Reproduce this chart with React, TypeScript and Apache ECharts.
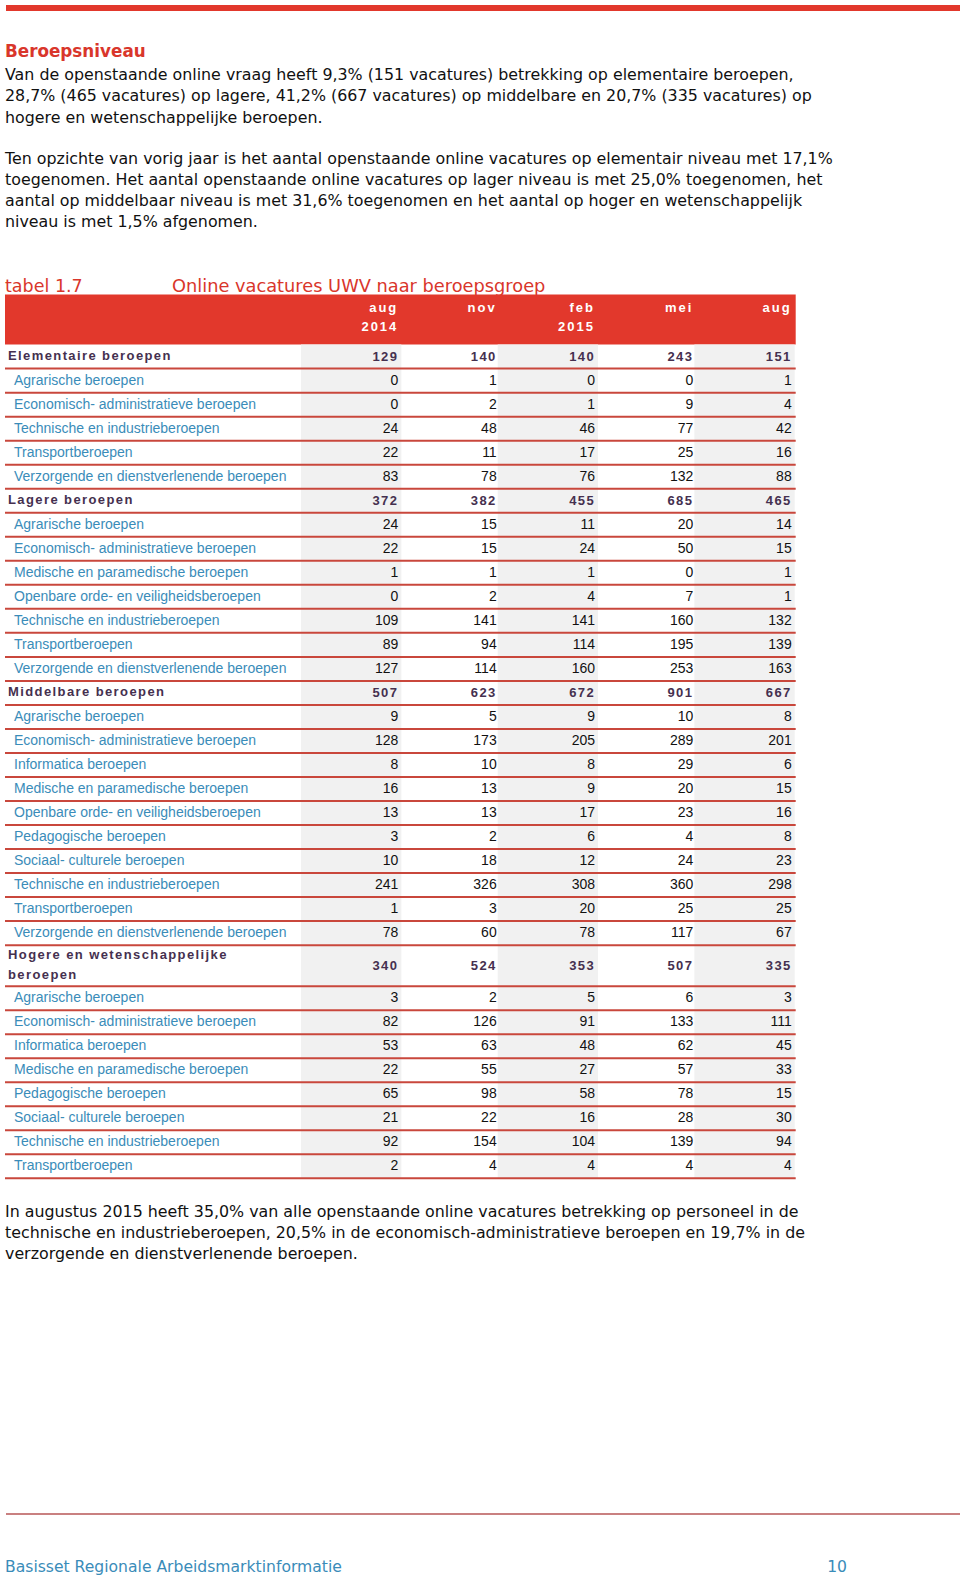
import React, { useEffect, useRef } from "react";
import * as echarts from "echarts";

// ---------- DATA ----------
const periods = ["aug\n2014", "nov", "feb\n2015", "mei", "aug"];

const groupNames = [
  "Elementaire beroepen",
  "Lagere beroepen",
  "Middelbare beroepen",
  "Hogere en wetenschappelijke\nberoepen",
];
const groupTotals = [
  [129, 140, 140, 243, 151],
  [372, 382, 455, 685, 465],
  [507, 623, 672, 901, 667],
  [340, 524, 353, 507, 335],
];

const elementaireLabels = [
  "Agrarische beroepen",
  "Economisch- administratieve beroepen",
  "Technische en industrieberoepen",
  "Transportberoepen",
  "Verzorgende en dienstverlenende beroepen",
];
const elementaireValues = [
  [0, 1, 0, 0, 1],
  [0, 2, 1, 9, 4],
  [24, 48, 46, 77, 42],
  [22, 11, 17, 25, 16],
  [83, 78, 76, 132, 88],
];

const lagereLabels = [
  "Agrarische beroepen",
  "Economisch- administratieve beroepen",
  "Medische en paramedische beroepen",
  "Openbare orde- en veiligheidsberoepen",
  "Technische en industrieberoepen",
  "Transportberoepen",
  "Verzorgende en dienstverlenende beroepen",
];
const lagereValues = [
  [24, 15, 11, 20, 14],
  [22, 15, 24, 50, 15],
  [1, 1, 1, 0, 1],
  [0, 2, 4, 7, 1],
  [109, 141, 141, 160, 132],
  [89, 94, 114, 195, 139],
  [127, 114, 160, 253, 163],
];

const middelbareLabels = [
  "Agrarische beroepen",
  "Economisch- administratieve beroepen",
  "Informatica beroepen",
  "Medische en paramedische beroepen",
  "Openbare orde- en veiligheidsberoepen",
  "Pedagogische beroepen",
  "Sociaal- culturele beroepen",
  "Technische en industrieberoepen",
  "Transportberoepen",
  "Verzorgende en dienstverlenende beroepen",
];
const middelbareValues = [
  [9, 5, 9, 10, 8],
  [128, 173, 205, 289, 201],
  [8, 10, 8, 29, 6],
  [16, 13, 9, 20, 15],
  [13, 13, 17, 23, 16],
  [3, 2, 6, 4, 8],
  [10, 18, 12, 24, 23],
  [241, 326, 308, 360, 298],
  [1, 3, 20, 25, 25],
  [78, 60, 78, 117, 67],
];

const hogereLabels = [
  "Agrarische beroepen",
  "Economisch- administratieve beroepen",
  "Informatica beroepen",
  "Medische en paramedische beroepen",
  "Pedagogische beroepen",
  "Sociaal- culturele beroepen",
  "Technische en industrieberoepen",
  "Transportberoepen",
];
const hogereValues = [
  [3, 2, 5, 6, 3],
  [82, 126, 91, 133, 111],
  [53, 63, 48, 62, 45],
  [22, 55, 27, 57, 33],
  [65, 98, 58, 78, 15],
  [21, 22, 16, 28, 30],
  [92, 154, 104, 139, 94],
  [2, 4, 4, 4, 4],
];

const subLabels = [elementaireLabels, lagereLabels, middelbareLabels, hogereLabels];
const subValues = [elementaireValues, lagereValues, middelbareValues, hogereValues];

const sectionTitle = "Beroepsniveau";
const introLines = [
  "Van de openstaande online vraag heeft 9,3% (151 vacatures) betrekking op elementaire beroepen,",
  "28,7% (465 vacatures) op lagere, 41,2% (667 vacatures) op middelbare en 20,7% (335 vacatures) op",
  "hogere en wetenschappelijke beroepen.",
];
const changeLines = [
  "Ten opzichte van vorig jaar is het aantal openstaande online vacatures op elementair niveau met 17,1%",
  "toegenomen. Het aantal openstaande online vacatures op lager niveau is met 25,0% toegenomen, het",
  "aantal op middelbaar niveau is met 31,6% toegenomen en het aantal op hoger en wetenschappelijk",
  "niveau is met 1,5% afgenomen.",
];
const tableNumber = "tabel 1.7";
const tableTitle = "Online vacatures UWV naar beroepsgroep";
const outroLines = [
  "In augustus 2015 heeft 35,0% van alle openstaande online vacatures betrekking op personeel in de",
  "technische en industrieberoepen, 20,5% in de economisch-administratieve beroepen en 19,7% in de",
  "verzorgende en dienstverlenende beroepen.",
];
const footerText = "Basisset Regionale Arbeidsmarktinformatie";
const pageNumber = "10";

// ---------- STYLE ----------
const RED = "#e2382c";
const TITLE_RED = "#d9362b";
const LINE_RED = "#c9473c";
const GREY = "#f1f1f1";
const BLUE = "#3a8cb9";
const GROUP_COLOR = "#45304f";
const HEAD_COLOR = "#ffffff";
const PARA_FONT = '15.85px "DejaVu Sans"';
const FOOT_FONT = '15.6px "DejaVu Sans"';
const TABLE_FONT = '"Liberation Sans", Arial, sans-serif';

const HEADER_U = 50 / 24.02;
const TWO_LINE_U = 41 / 24.02;

type Row = { kind: string; label: string; values: number[]; y0: number; h: number };

function buildRows(): Row[] {
  const rows: Row[] = [];
  rows.push({ kind: "header", label: "", values: [], y0: -HEADER_U, h: HEADER_U });
  let y = 0;
  groupNames.forEach((g, gi) => {
    const h = g.indexOf("\n") >= 0 ? TWO_LINE_U : 1;
    rows.push({ kind: "group", label: g, values: groupTotals[gi], y0: y, h });
    y += h;
    subLabels[gi].forEach((l, si) => {
      rows.push({ kind: "sub", label: l, values: subValues[gi][si], y0: y, h: 1 });
      y += 1;
    });
  });
  return rows;
}

function lineTexts(lines: string[], y0: number, step: number, font: string, fill: string) {
  return lines.map((t, i) => ({
    type: "text",
    style: {
      text: t,
      x: 5,
      y: y0 + i * step,
      font,
      fill,
      align: "left",
      textAlign: "left",
      verticalAlign: "middle",
      textVerticalAlign: "middle",
    },
  }));
}

export default function App() {
  const ref = useRef<HTMLDivElement>(null);

  useEffect(() => {
    if (!ref.current) return;
    const chart = echarts.init(ref.current, undefined, { renderer: "svg" });
    const rows = buildRows();
    const total = rows[rows.length - 1].y0 + rows[rows.length - 1].h;
    const tableLeft = 5;

    const renderItem = (params: any, api: any) => {
      const r = rows[api.value(2)];
      const bandW = api.size([1, 0])[0];
      const yTop = api.coord([0, r.y0])[1];
      const yBot = api.coord([0, r.y0 + r.h])[1];
      const colRight = (c: number) => api.coord([c, r.y0])[0] + bandW / 2;
      const tableRight = colRight(periods.length - 1) + 3;
      const children: any[] = [];
      if (r.kind === "header") {
        children.push({
          type: "rect",
          shape: { x: tableLeft, y: yTop, width: tableRight - tableLeft, height: yBot - yTop },
          style: { fill: RED },
        });
        periods.forEach((p, c) => {
          children.push({
            type: "text",
            z2: 5,
            style: {
              text: p,
              x: colRight(c) - 1,
              y: yTop + 3,
              font: `bold 13px ${TABLE_FONT}`,
              lineHeight: 19,
              fill: HEAD_COLOR,
              align: "right",
              textAlign: "right",
              verticalAlign: "top",
              textVerticalAlign: "top",
            },
          });
        });
      } else {
        const isGroup = r.kind === "group";
        for (let c = 0; c < periods.length; c += 2) {
          children.push({
            type: "rect",
            z2: 0,
            shape: { x: colRight(c) - bandW, y: yTop, width: bandW + 2, height: yBot - yTop },
            style: { fill: GREY },
          });
        }
        const cy = (yTop + yBot) / 2 - 1;
        children.push({
          type: "text",
          z2: 5,
          style: {
            text: r.label,
            x: tableLeft + (isGroup ? 3 : 9),
            y: cy,
            font: isGroup ? `bold 13px ${TABLE_FONT}` : `14px ${TABLE_FONT}`,
            lineHeight: 20,
            fill: isGroup ? GROUP_COLOR : BLUE,
            align: "left",
            textAlign: "left",
            verticalAlign: "middle",
            textVerticalAlign: "middle",
          },
        });
        r.values.forEach((v, c) => {
          children.push({
            type: "text",
            z2: 5,
            style: {
              text: String(v),
              x: colRight(c) - 1,
              y: isGroup ? (yTop + yBot) / 2 : cy,
              font: isGroup ? `bold 13px ${TABLE_FONT}` : `14px ${TABLE_FONT}`,
              fill: isGroup ? GROUP_COLOR : "#111111",
              align: "right",
              textAlign: "right",
              verticalAlign: "middle",
              textVerticalAlign: "middle",
            },
          });
        });
        children.push({
          type: "line",
          z2: 10,
          shape: { x1: tableLeft, y1: yBot, x2: tableRight, y2: yBot },
          style: { stroke: LINE_RED, lineWidth: 2 },
        });
      }
      return { type: "group", children };
    };

    const option: any = {
      animation: false,
      backgroundColor: "#ffffff",
      grid: { left: 301, right: 960 - 792.7, top: 294.6, bottom: 1577 - 1178.3 },
      xAxis: { type: "category", data: periods, show: false },
      yAxis: { type: "value", inverse: true, min: -HEADER_U, max: total, show: false },
      series: [
        {
          type: "custom",
          clip: false,
          silent: true,
          renderItem,
          encode: { x: 0, y: 1 },
          data: rows.map((r, i) => [0, r.y0, i]),
        },
      ],
      graphic: [
        { type: "rect", shape: { x: 6, y: 5, width: 954, height: 6 }, style: { fill: RED } },
        {
          type: "text",
          style: {
            text: sectionTitle, x: 5, y: 50.5, font: 'bold 16.8px "DejaVu Sans"', fill: TITLE_RED,
            align: "left", textAlign: "left", verticalAlign: "middle", textVerticalAlign: "middle",
          },
        },
        ...lineTexts(introLines, 74.8, 21.1, PARA_FONT, "#111111"),
        ...lineTexts(changeLines, 158.2, 21.1, PARA_FONT, "#111111"),
        {
          type: "text",
          style: {
            text: tableNumber, x: 5, y: 285.5, font: '17.5px "DejaVu Sans"', fill: TITLE_RED,
            align: "left", textAlign: "left", verticalAlign: "middle", textVerticalAlign: "middle",
          },
        },
        {
          type: "text",
          style: {
            text: tableTitle, x: 172, y: 285.5, font: '17.8px "DejaVu Sans"', fill: TITLE_RED,
            align: "left", textAlign: "left", verticalAlign: "middle", textVerticalAlign: "middle",
          },
        },
        ...lineTexts(outroLines, 1211.5, 21.2, PARA_FONT, "#111111"),
        {
          type: "line",
          shape: { x1: 6, y1: 1514, x2: 960, y2: 1514 },
          style: { stroke: "#c98080", lineWidth: 2 },
        },
        {
          type: "text",
          style: {
            text: footerText, x: 5, y: 1566.5, font: FOOT_FONT, fill: BLUE,
            align: "left", textAlign: "left", verticalAlign: "middle", textVerticalAlign: "middle",
          },
        },
        {
          type: "text",
          style: {
            text: pageNumber, x: 847, y: 1566.5, font: FOOT_FONT, fill: BLUE,
            align: "right", textAlign: "right", verticalAlign: "middle", textVerticalAlign: "middle",
          },
        },
      ],
    };
    chart.setOption(option);
    return () => chart.dispose();
  }, []);

  return (
    <>
      <style>{`
        .pg text[fill="${GROUP_COLOR}"] { letter-spacing: 1.4px; }
        .pg text[fill="${HEAD_COLOR}"] { letter-spacing: 2px; }
      `}</style>
      <div
        className="pg"
        ref={ref}
        style={{ position: "fixed", left: 0, top: 0, width: 960, height: 1577 }}
      />
    </>
  );
}
